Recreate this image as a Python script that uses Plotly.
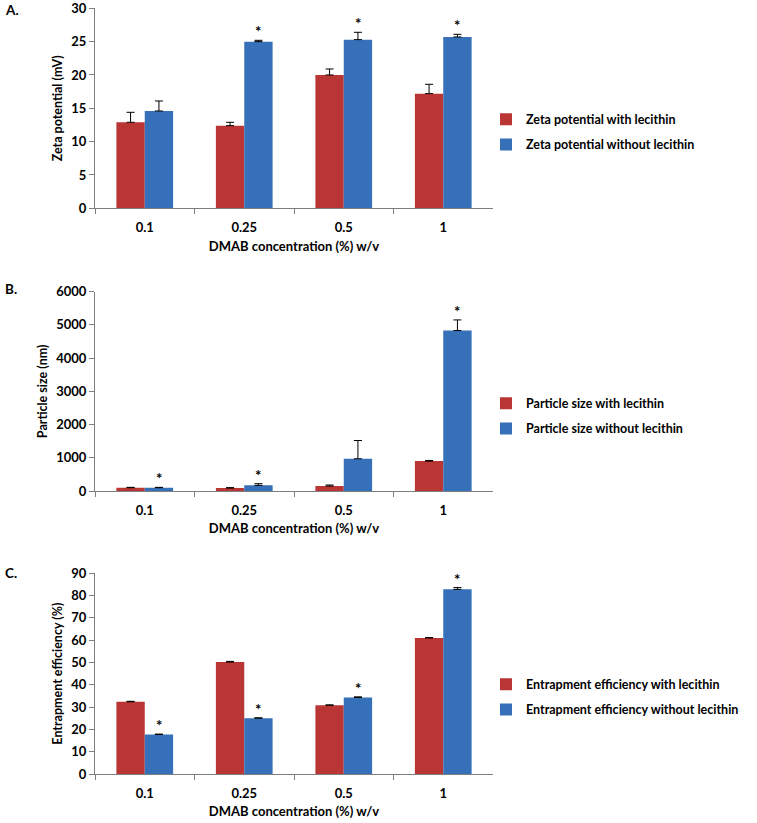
import plotly.graph_objects as go

categories = ["0.1", "0.25", "0.5", "1"]

zeta_with = [12.9, 12.4, 20.0, 17.2]
zeta_with_err = [1.5, 0.5, 0.9, 1.4]
zeta_without = [14.6, 25.0, 25.3, 25.7]
zeta_without_err = [1.5, 0.2, 1.1, 0.4]
zeta_star = [False, True, True, True]

size_with = [100, 90, 150, 900]
size_with_err = [10, 10, 30, 20]
size_without = [100, 170, 970, 4830]
size_without_err = [10, 50, 550, 320]
size_star = [True, True, False, True]

ee_with = [32.4, 50.2, 30.8, 61.0]
ee_with_err = [0.2, 0.3, 0.2, 0.2]
ee_without = [17.7, 25.0, 34.3, 82.8]
ee_without_err = [0.2, 0.2, 0.3, 0.8]
ee_star = [True, True, True, True]

RED = "#B93634"
BLUE = "#3670B8"
FONT = "Lato"
W, H = 757, 823

panels = [
    dict(label="A.", ytitle="Zeta potential (mV)", yr=[0, 30], dt=5,
         a=zeta_with, ae=zeta_with_err, b=zeta_without, be=zeta_without_err, star=zeta_star,
         na="Zeta potential with lecithin", nb="Zeta potential without lecithin",
         top=8.3, bot=208.3, leg=132, lab=10),
    dict(label="B.", ytitle="Particle size (nm)", yr=[0, 6000], dt=1000,
         a=size_with, ae=size_with_err, b=size_without, be=size_without_err, star=size_star,
         na="Particle size with lecithin", nb="Particle size without lecithin",
         top=291.7, bot=491, leg=416, lab=289),
    dict(label="C.", ytitle="Entrapment efficiency (%)", yr=[0, 90], dt=10,
         a=ee_with, ae=ee_with_err, b=ee_without, be=ee_without_err, star=ee_star,
         na="Entrapment efficiency with lecithin", nb="Entrapment efficiency without lecithin",
         top=573.3, bot=774, leg=697, lab=573),
]

def f(size):
    return dict(family=FONT, size=size, color="black", weight="bold")

def px(x):
    return x / W

def py(y):
    return 1 - y / H

fig = go.Figure()
annotations = []
layout = {}
for i, p in enumerate(panels):
    n = "" if i == 0 else str(i + 1)
    xa, ya = "x" + n, "y" + n
    lg = "legend" + n
    for j, (vals, errs, name, col) in enumerate([(p["a"], p["ae"], p["na"], RED), (p["b"], p["be"], p["nb"], BLUE)]):
        fig.add_trace(go.Bar(
            x=categories, y=vals, name=name, marker=dict(color=col, line=dict(width=0)),
            error_y=dict(type="data", symmetric=False, array=errs, arrayminus=[0] * len(errs),
                         color="black", thickness=1, width=4),
            xaxis=xa, yaxis=ya, legend=lg, legendgroup=f"g{i}{j}",
        ))
    layout["xaxis" + n] = dict(
        domain=[px(95), px(493)], anchor=ya, type="category", showline=True, linecolor="#7f7f7f",
        linewidth=1, ticks="outside", tickson="boundaries", ticklen=5, tickcolor="#7f7f7f",
        showgrid=False, tickfont=f(13), ticklabelstandoff=7,
        title=dict(text="DMAB concentration (%) w/v", font=f(13), standoff=7),
    )
    layout["yaxis" + n] = dict(
        domain=[py(p["bot"]), py(p["top"])], anchor=xa, range=p["yr"], dtick=p["dt"], showline=True,
        linecolor="#7f7f7f", linewidth=1, ticks="outside", ticklen=5, tickcolor="#7f7f7f",
        showgrid=False, zeroline=False, tickfont=f(13), ticklabeloverflow="allow",
        title=dict(text=p["ytitle"], font=f(12.5), standoff=5),
    )
    layout[lg] = dict(
        x=px(486), y=py(p["leg"]), xanchor="left", yanchor="middle", bgcolor="rgba(0,0,0,0)",
        font=f(12.5), itemwidth=30, tracegroupgap=6,
    )
    annotations.append(dict(text=p["label"], xref="paper", yref="paper",
                            x=px(3), y=py(p["lab"]), xanchor="left", yanchor="middle",
                            showarrow=False, font=f(13.5)))
    for k, (v, e, s) in enumerate(zip(p["b"], p["be"], p["star"])):
        if s:
            annotations.append(dict(text="*", x=k, y=v + e, xref=xa, yref=ya, xshift=14,
                                    yanchor="bottom", showarrow=False, yshift=-2,
                                    font=f(15)))

fig.update_layout(
    width=W, height=H, margin=dict(l=0, r=0, t=0, b=0, autoexpand=False),
    plot_bgcolor="white", paper_bgcolor="white",
    barmode="group", bargap=0.43, bargroupgap=0, annotations=annotations, **layout,
)
fig.write_html("out.html", config={"displayModeBar": False},
               post_script="document.body.style.margin='0px';")
